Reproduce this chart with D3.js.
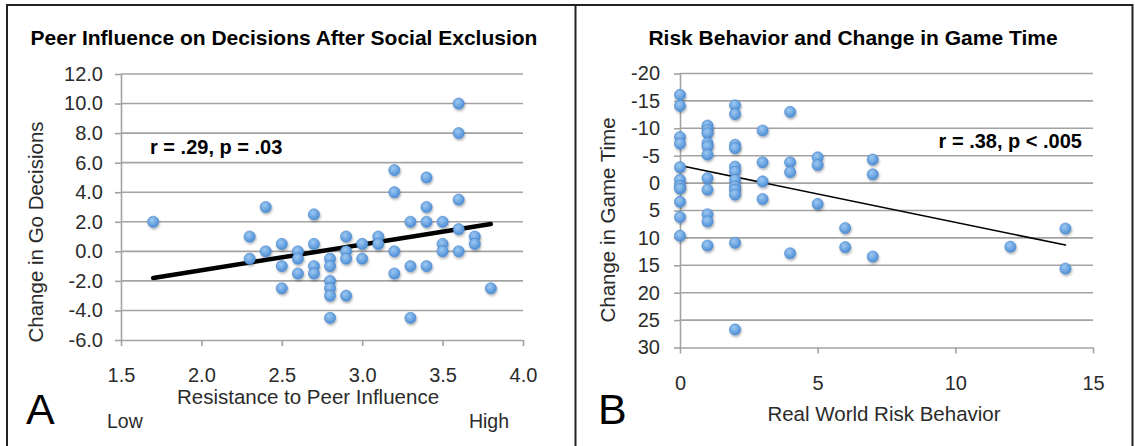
<!DOCTYPE html>
<html>
<head>
<meta charset="utf-8">
<script src="https://cdn.jsdelivr.net/npm/d3@7"></script>
<style>
  body { margin: 0; background: #fff; }
  svg { display: block; }
  text { font-family: "Liberation Sans", Arial, Helvetica, sans-serif; }
</style>
</head>
<body>
<svg id="chart" width="1135" height="446"></svg>
<script>
// ---- data ----
// Panel A: resistance to peer influence vs change in go decisions
var aX = [1.7, 2.3, 2.3, 2.4, 2.4, 2.5, 2.5, 2.5, 2.6, 2.6, 2.6, 2.7, 2.7, 2.7, 2.7,
          2.8, 2.8, 2.8, 2.8, 2.8, 2.8, 2.9, 2.9, 2.9, 2.9, 3.0, 3.0, 3.1, 3.1,
          3.2, 3.2, 3.2, 3.2, 3.3, 3.3, 3.3, 3.4, 3.4, 3.4, 3.4, 3.5, 3.5, 3.5,
          3.6, 3.6, 3.6, 3.6, 3.6, 3.7, 3.7, 3.8];
var aY = [2.0, 1.0, -0.5, 3.0, 0.0, 0.5, -1.0, -2.5, 0.0, -0.5, -1.5, 2.5, 0.5, -1.0, -1.5,
          -0.5, -1.0, -2.0, -2.5, -3.0, -4.5, 1.0, 0.0, -0.5, -3.0, 0.5, -0.5, 1.0, 0.5,
          5.5, 4.0, 0.0, -1.5, 2.0, -1.0, -4.5, 5.0, 3.0, 2.0, -1.0, 2.0, 0.5, 0.0,
          10.0, 8.0, 3.5, 1.5, 0.0, 1.0, 0.5, -2.5];
var aFit = [[1.7, -1.8], [3.8, 1.85]];
var aXTicks = [1.5, 2.0, 2.5, 3.0, 3.5, 4.0];
var aYTicks = [-6, -4, -2, 0, 2, 4, 6, 8, 10, 12];

// Panel B: real world risk behavior vs change in game time (axis reversed)
var bX = [0, 0, 0, 0, 0, 0, 0, 0, 0, 0, 0,
          1, 1, 1, 1, 1, 1, 1, 1, 1, 1, 1,
          2, 2, 2, 2, 2, 2, 2, 2, 2, 2, 2, 2,
          3, 3, 3, 3,
          4, 4, 4, 4,
          5, 5, 5,
          6, 6,
          7, 7, 7,
          12,
          14, 14];
var bY = [-16.1, -14.1, -8.4, -7.2, -2.9, -0.6, 0.5, 1.0, 3.4, 6.2, 9.6,
          -10.5, -9.7, -9.1, -7.3, -6.7, -5.2, -0.9, 1.2, 5.7, 7.0, 11.4,
          -14.2, -12.6, -7.0, -6.4, -3.0, -2.1, -0.6, 0.6, 1.2, 2.1, 10.9, 26.7,
          -9.6, -3.8, -0.3, 2.9,
          -13.0, -3.8, -2.0, 12.8,
          -4.7, -3.3, 3.8,
          8.2, 11.7,
          -4.3, -1.6, 13.4,
          11.6,
          8.3, 15.6];
var bFit = [[0, -3.2], [14, 11.3]];
var bXTicks = [0, 5, 10, 15];
var bYTicks = [-20, -15, -10, -5, 0, 5, 10, 15, 20, 25, 30];

var svg = d3.select("#chart");
var gridColor = "#a3a3a3";

// dot look: light-to-dark blue with a small shadow
var defs = svg.append("defs");
var grad = defs.append("radialGradient").attr("id", "dot").attr("cx", "40%").attr("cy", "35%").attr("r", "65%");
grad.append("stop").attr("offset", "0%").attr("stop-color", "#9cc8f2");
grad.append("stop").attr("offset", "100%").attr("stop-color", "#4f8fd6");
defs.append("filter").attr("id", "shadow").attr("x", "-50%").attr("y", "-50%").attr("width", "200%").attr("height", "200%")
  .append("feDropShadow").attr("dx", 0.8).attr("dy", 1.8).attr("stdDeviation", 1.2)
  .attr("flood-color", "#000").attr("flood-opacity", 0.3);

// ---- panel frame ----
var frame = svg.append("g").attr("stroke", "#222").attr("stroke-width", 2);
frame.append("line").attr("x1", 6).attr("y1", 5).attr("x2", 1133).attr("y2", 5);
frame.append("line").attr("x1", 7).attr("y1", 4).attr("x2", 7).attr("y2", 446);
frame.append("line").attr("x1", 575.5).attr("y1", 4).attr("x2", 575.5).attr("y2", 446);
frame.append("line").attr("x1", 1132.5).attr("y1", 4).attr("x2", 1132.5).attr("y2", 446);

function drawPanel(o) {
  var g = svg.append("g");
  var x = o.x, y = o.y;

  // gridlines
  g.selectAll("line.grid")
    .data(o.yTicks.filter(function(d) { return d !== o.yBase; }))
    .enter().append("line")
      .attr("class", "grid")
      .attr("x1", x.range()[0]).attr("x2", x.range()[1])
      .attr("y1", function(d) { return y(d); })
      .attr("y2", function(d) { return y(d); })
      .attr("stroke", gridColor).attr("stroke-width", 1.6);

  // axes
  var yAxis = d3.axisLeft(y).tickValues(o.yTicks).tickFormat(o.yFmt)
    .tickSize(6).tickSizeOuter(0).tickPadding(o.yPad);
  var xAxis = d3.axisBottom(x).tickValues(o.xTicks).tickFormat(o.xFmt)
    .tickSize(6).tickSizeOuter(0).tickPadding(o.xPad);

  var ya = g.append("g").attr("transform", "translate(" + x.range()[0] + ",0)").call(yAxis);
  var xa = g.append("g").attr("transform", "translate(0," + y(o.yBase) + ")").call(xAxis);
  [ya, xa].forEach(function(a) {
    a.select(".domain").attr("stroke", gridColor).attr("stroke-width", 1.6);
    a.selectAll(".tick line").attr("stroke", gridColor).attr("stroke-width", 1.6);
    a.selectAll(".tick text").attr("fill", "#2b2b2b").style("font-size", "20px");
  });

  // fit line
  g.append("path")
    .datum(o.fit)
    .attr("d", d3.line().x(function(d) { return x(d[0]); }).y(function(d) { return y(d[1]); }))
    .attr("stroke", "#000").attr("stroke-width", o.fitWidth).attr("fill", "none")
    .attr("stroke-linecap", "round");

  // points
  g.selectAll("circle")
    .data(o.xs)
    .enter().append("circle")
      .attr("cx", function(d) { return x(d); })
      .attr("cy", function(d, i) { return y(o.ys[i]); })
      .attr("r", 5.6)
      .attr("fill", "url(#dot)")
      .attr("stroke", "#4a86cc").attr("stroke-width", 0.6)
      .attr("filter", "url(#shadow)");

  return g;
}

// ---- Panel A ----
var xA = d3.scaleLinear().domain([1.5, 4.0]).range([121, 523]);
var yA = d3.scaleLinear().domain([-6, 12]).range([340, 74]);
drawPanel({
  x: xA, y: yA, xs: aX, ys: aY, fit: aFit, fitWidth: 4.5,
  xTicks: aXTicks, yTicks: aYTicks, yBase: -6,
  xFmt: function(d) { return d.toFixed(1); },
  yFmt: function(d) { return d.toFixed(1); },
  xPad: 22, yPad: 12
});

svg.append("text").attr("x", 284).attr("y", 45).attr("text-anchor", "middle")
  .style("font-size", "21px").style("font-weight", "bold")
  .text("Peer Influence on Decisions After Social Exclusion");
svg.append("text").attr("x", 150).attr("y", 154)
  .style("font-size", "20px").style("font-weight", "bold")
  .text("r = .29, p = .03");
svg.append("text").attr("transform", "translate(43,232) rotate(-90)").attr("text-anchor", "middle")
  .style("font-size", "20.5px").attr("fill", "#2b2b2b")
  .text("Change in Go Decisions");
svg.append("text").attr("x", 308).attr("y", 404).attr("text-anchor", "middle")
  .style("font-size", "20.5px").attr("fill", "#2b2b2b")
  .text("Resistance to Peer Influence");
svg.append("text").attr("x", 107).attr("y", 428)
  .style("font-size", "19.5px").attr("fill", "#2b2b2b").text("Low");
svg.append("text").attr("x", 509).attr("y", 428).attr("text-anchor", "end")
  .style("font-size", "19.5px").attr("fill", "#2b2b2b").text("High");
svg.append("text").attr("x", 26).attr("y", 424)
  .style("font-size", "43px").text("A");

// ---- Panel B ----
var xB = d3.scaleLinear().domain([0, 15]).range([680, 1093]);
var yB = d3.scaleLinear().domain([-20, 30]).range([73.5, 347.5]);
drawPanel({
  x: xB, y: yB, xs: bX, ys: bY, fit: bFit, fitWidth: 1.6,
  xTicks: bXTicks, yTicks: bYTicks, yBase: 30,
  xFmt: function(d) { return String(d); },
  yFmt: function(d) { return String(d); },
  xPad: 22, yPad: 14
});

svg.append("text").attr("x", 853).attr("y", 45).attr("text-anchor", "middle")
  .style("font-size", "21px").style("font-weight", "bold")
  .text("Risk Behavior and Change in Game Time");
svg.append("text").attr("x", 1082).attr("y", 148).attr("text-anchor", "end")
  .style("font-size", "20px").style("font-weight", "bold")
  .text("r = .38, p < .005");
svg.append("text").attr("transform", "translate(615,220) rotate(-90)").attr("text-anchor", "middle")
  .style("font-size", "20.5px").attr("fill", "#2b2b2b")
  .text("Change in Game Time");
svg.append("text").attr("x", 884).attr("y", 421).attr("text-anchor", "middle")
  .style("font-size", "20.5px").attr("fill", "#2b2b2b")
  .text("Real World Risk Behavior");
svg.append("text").attr("x", 598).attr("y", 424)
  .style("font-size", "43px").text("B");
</script>
</body>
</html>
